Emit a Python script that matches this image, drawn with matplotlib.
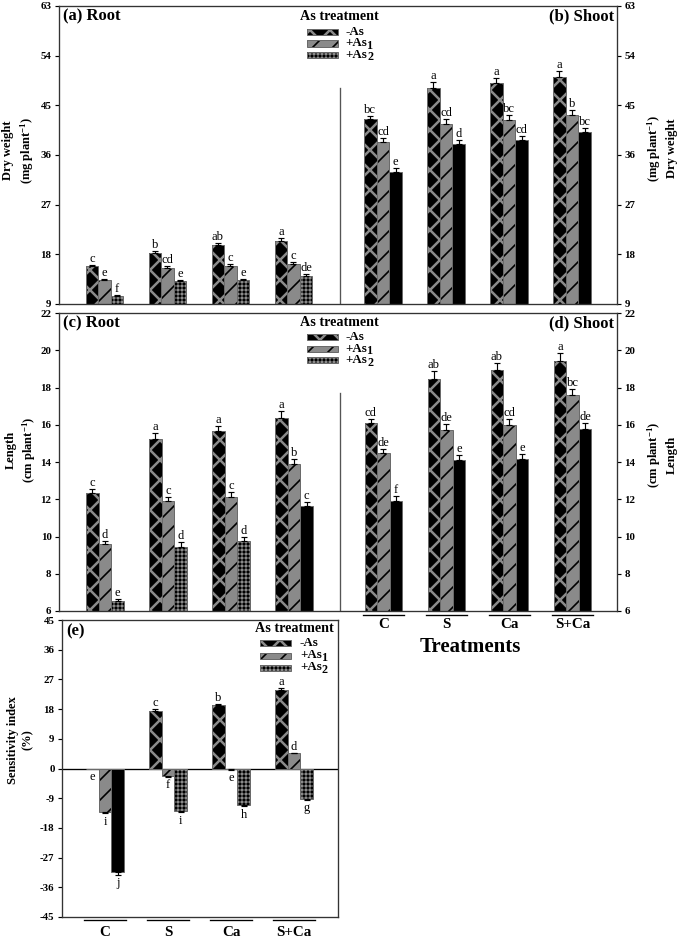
import numpy as np
import matplotlib
matplotlib.use("Agg")
import matplotlib.pyplot as plt
import matplotlib.transforms as mtransforms
from matplotlib.patches import Rectangle

W, H, DPI = 685, 941, 120

plt.rcParams["font.family"] = ["Liberation Serif", "DejaVu Serif"]
plt.rcParams["font.weight"] = "bold"
plt.rcParams["mathtext.fontset"] = "custom"
plt.rcParams["mathtext.rm"] = "Liberation Serif:bold"
plt.rcParams["mathtext.bf"] = "Liberation Serif:bold"
plt.rcParams["mathtext.it"] = "Liberation Serif:italic:bold"
plt.rcParams["axes.unicode_minus"] = False
plt.rcParams["hatch.linewidth"] = 1.0

treatments = ["C", "S", "Ca", "S+Ca"]
as_labels = ["-As", "+As", "+As"]
as_subs = ["", "1", "2"]

# wartosci: wiersz = zabieg, kolumny = -As, +As1, +As2
root_dw = [[15.9, 13.4, 10.4], [18.2, 15.5, 13.1], [19.7, 15.9, 13.4], [20.5, 16.3, 14.0]]
root_dw_se = [[0.25, 0.2, 0.2], [0.4, 0.3, 0.25], [0.4, 0.3, 0.2], [0.5, 0.3, 0.35]]
root_dw_sig = [["c", "e", "f"], ["b", "cd", "e"], ["ab", "c", "e"], ["a", "c", "de"]]

shoot_dw = [[42.5, 38.4, 33.0], [48.2, 41.6, 38.0], [49.1, 42.4, 38.8], [50.2, 43.3, 40.1]]
shoot_dw_se = [[0.6, 0.6, 0.7], [1.1, 0.9, 0.8], [0.8, 0.9, 0.6], [1.0, 0.8, 0.8]]
shoot_dw_sig = [["bc", "cd", "e"], ["a", "cd", "d"], ["a", "bc", "cd"], ["a", "b", "bc"]]

root_len = [[12.32, 9.59, 6.54], [15.23, 11.91, 9.46], [15.66, 12.13, 9.76], [16.36, 13.89, 11.62]]
root_len_se = [[0.22, 0.18, 0.12], [0.32, 0.23, 0.22], [0.25, 0.26, 0.2], [0.36, 0.27, 0.25]]
root_len_sig = [["c", "d", "e"], ["a", "c", "d"], ["a", "c", "d"], ["a", "b", "c"]]

shoot_len = [[16.07, 14.46, 11.91], [18.48, 15.74, 14.09], [18.95, 15.96, 14.16], [19.43, 17.59, 15.75]]
shoot_len_se = [[0.25, 0.25, 0.25], [0.41, 0.28, 0.29], [0.34, 0.33, 0.25], [0.43, 0.34, 0.32]]
shoot_len_sig = [["cd", "de", "f"], ["ab", "de", "e"], ["ab", "cd", "e"], ["a", "bc", "de"]]

sens = [[0.0, -13.3, -31.3], [17.4, -2.3, -12.9], [19.2, -0.3, -11.1], [23.9, 4.6, -9.1]]
sens_se = [[0.0, 0.3, 0.9], [0.5, 0.2, 0.3], [0.4, 0.1, 0.3], [0.6, 0.2, 0.3]]
sens_sig = [["e", "i", "j"], ["c", "f", "i"], ["b", "e", "h"], ["a", "d", "g"]]

GRAY = "#8a8a8a"
EDGE = "#6a6a6a"
SPINE = "#333333"
BW = 0.2
SHOOT_X0 = 4.42

STYLE = {
    "x": dict(face="black", hatch="xx", hc=GRAY, hlw=1.5),
    "/": dict(face=GRAY, hatch="//", hc="black", hlw=1.0),
    "+": dict(face="black", hatch="+++++", hc=GRAY, hlw=0.6),
    "k": dict(face="black", hatch=None, hc="black", hlw=0),
}


def fx(px):
    return px / W


def fy(py):
    return 1 - py / H


def add_axes(left, top, right, bottom):
    return fig.add_axes([fx(left), fy(bottom), (right - left) / W, (bottom - top) / H])


def set_hlw(patch, lw):
    if hasattr(patch, "set_hatch_linewidth"):
        patch.set_hatch_linewidth(lw)


def draw_bar(ax, x, h, kind):
    st = STYLE[kind]
    bars = ax.bar(x, h, BW, color=st["face"], edgecolor=st["hc"], linewidth=0,
                  hatch=st["hatch"], zorder=2)
    for p in bars:
        set_hlw(p, st["hlw"])
    ax.bar(x, h, BW, fill=False, edgecolor=EDGE, linewidth=0.6, zorder=2.1)


def draw_groups(ax, x0, vals, errs, sigs, as2_kinds):
    for i, (v3, e3, s3) in enumerate(zip(vals, errs, sigs)):
        kinds = ["x", "/", as2_kinds[i]]
        for j in range(3):
            x = x0 + i + (j - 1) * BW
            v, e = v3[j], e3[j]
            draw_bar(ax, x, v, kinds[j])
            if v > 0:
                if e > 0:
                    ax.errorbar(x, v, yerr=[[0], [e]], fmt="none", ecolor="black",
                                elinewidth=0.7, capsize=2, capthick=0.7, zorder=3)
                ax.annotate(s3[j], (x, v + e), xytext=(0, 0), textcoords="offset points",
                            ha="center", va="bottom", fontsize=7.5, fontweight="normal")
            else:
                if e > 0:
                    ax.errorbar(x, v, yerr=[[e], [0]], fmt="none", ecolor="black",
                                elinewidth=0.7, capsize=2, capthick=0.7, zorder=3)
                ax.annotate(s3[j], (x, v - e), xytext=(0, -1.5), textcoords="offset points",
                            ha="center", va="top", fontsize=7.5, fontweight="normal")


def style_axes(ax, ylim, step, right=True):
    ax.set_ylim(*ylim)
    ax.set_yticks(np.arange(ylim[0], ylim[1] + 1, step))
    ax.set_xticks([])
    ax.tick_params(axis="y", direction="out", length=2.5, width=0.7, labelsize=6.5,
                   pad=2, colors="black", right=right, labelright=right)
    for sp in ax.spines.values():
        sp.set_color(SPINE)
        sp.set_linewidth(0.8)


def group_labels(ax, x0, y_line, y_text):
    trans = mtransforms.blended_transform_factory(ax.transData, ax.transAxes)
    for i, t in enumerate(treatments):
        ax.plot([x0 + i - 0.33, x0 + i + 0.33], [y_line, y_line], transform=trans,
                color="black", lw=0.8, clip_on=False)
        ax.text(x0 + i, y_text, t, transform=trans, ha="center", va="center", fontsize=9)


def draw_legend(title_x, title_y, patch_x, label_x, ys, kinds):
    fig.text(fx(title_x), fy(title_y), "As treatment", ha="left", va="center", fontsize=8.5)
    for kind, y, lab, sub in zip(kinds, ys, as_labels, as_subs):
        st = STYLE[kind]
        r = Rectangle((fx(patch_x), fy(y + 3)), 31 / W, 6 / H, transform=fig.transFigure,
                      facecolor=st["face"], edgecolor=st["hc"], linewidth=0, hatch=st["hatch"])
        set_hlw(r, st["hlw"])
        fig.add_artist(r)
        fig.add_artist(Rectangle((fx(patch_x), fy(y + 3)), 31 / W, 6 / H,
                                 transform=fig.transFigure, fill=False,
                                 edgecolor=EDGE, linewidth=0.6))
        fig.text(fx(label_x), fy(y), lab, ha="left", va="center", fontsize=7.8)
        if sub:
            fig.text(fx(label_x + 22), fy(y + 2.5), sub, ha="left", va="center", fontsize=7.3)


fig = plt.figure(figsize=(W / DPI, H / DPI), dpi=DPI)

# --- (a)/(b) sucha masa ---
ax1 = add_axes(59, 6, 617, 304)
draw_groups(ax1, 0, root_dw, root_dw_se, root_dw_sig, ["+", "+", "+", "+"])
draw_groups(ax1, SHOOT_X0, shoot_dw, shoot_dw_se, shoot_dw_sig, ["k", "k", "k", "k"])
ax1.set_xlim(-0.722, 8.135)
style_axes(ax1, (9, 63), 9)
ax1.plot([3.738, 3.738], [9, 48.1], color="#555555", lw=0.8, zorder=1)

# --- (c)/(d) dlugosc ---
ax2 = add_axes(59, 313, 617, 611)
draw_groups(ax2, 0, root_len, root_len_se, root_len_sig, ["+", "+", "+", "k"])
draw_groups(ax2, SHOOT_X0, shoot_len, shoot_len_se, shoot_len_sig, ["k", "k", "k", "k"])
ax2.set_xlim(-0.73, 8.127)
style_axes(ax2, (6, 22), 2)
ax2.plot([3.735, 3.735], [6, 17.7], color="#555555", lw=0.8, zorder=1)
group_labels(ax2, SHOOT_X0, -0.0134, -0.044)

# --- (e) indeks wrazliwosci ---
ax3 = add_axes(62, 620, 338, 917)
draw_groups(ax3, 0, sens, sens_se, sens_sig, ["k", "+", "+", "+"])
ax3.set_xlim(-0.683, 3.698)
style_axes(ax3, (-45, 45), 9, right=False)
ax3.axhline(0, color="black", lw=0.8, zorder=1)
group_labels(ax3, 0, -0.011, -0.052)

# legendy
draw_legend(300, 17, 307, 345, [32, 43.5, 55], ["x", "/", "+"])
draw_legend(300, 322, 307, 345, [337, 349, 360], ["x", "/", "+"])
draw_legend(255, 629, 260, 300, [643, 655.5, 667.5], ["x", "/", "+"])

# tytuly paneli
fig.text(fx(63), fy(16), "(a) Root", ha="left", va="center", fontsize=10)
fig.text(fx(614), fy(16), "(b) Shoot", ha="right", va="center", fontsize=10)
fig.text(fx(63), fy(323), "(c) Root", ha="left", va="center", fontsize=10)
fig.text(fx(614), fy(323), "(d) Shoot", ha="right", va="center", fontsize=10)
fig.text(fx(66), fy(631), "(e)", ha="left", va="center", fontsize=10)

# opisy osi
ylab = dict(rotation=90, ha="center", va="center", multialignment="center", fontsize=7.5,
            linespacing=1.3)
fig.text(fx(19), fy(150), "Dry weight\n(mg plant$^{\\mathbf{-1}}$)", **ylab)
fig.text(fx(662), fy(148), "(mg plant$^{\\mathbf{-1}}$)\nDry weight", **ylab)
fig.text(fx(21), fy(450), "Length\n(cm plant$^{\\mathbf{-1}}$)", **ylab)
fig.text(fx(662), fy(455), "(cm plant$^{\\mathbf{-1}}$)\nLength", **ylab)
fig.text(fx(20), fy(740), "Sensitivity index\n(%)", **ylab)
fig.text(fx(470), fy(647), "Treatments", ha="center", va="center", fontsize=12.5)

fig.savefig("out.png", dpi=DPI)
